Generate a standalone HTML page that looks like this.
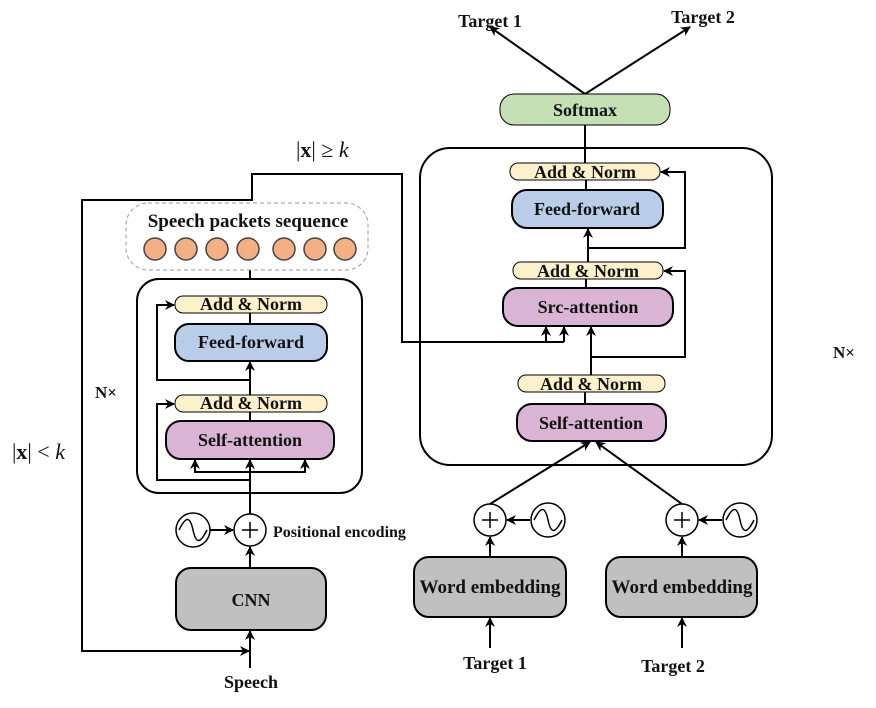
<!DOCTYPE html>
<html><head><style>body{margin:0;background:#fff}svg{display:block}text{font-family:"Liberation Serif",serif;font-weight:bold;fill:#111}</style></head><body>
<svg width="876" height="708" viewBox="0 0 876 708" xmlns="http://www.w3.org/2000/svg">
<defs><marker id="a" markerWidth="10" markerHeight="10" refX="9" refY="5" orient="auto" markerUnits="userSpaceOnUse"><path d="M0,0 L10,5 L0,10 L3,5 z" fill="#000"/></marker></defs>
<g stroke="#000" stroke-width="2" fill="none">
<rect x="420" y="148" width="352" height="317" rx="30"/>
<rect x="137" y="279" width="225" height="214" rx="22"/>
<polyline points="250,651 82,651 82,200 252,200 252,174 402,174 402,342 564,342"/>
<line x1="82" y1="651" x2="249" y2="651" marker-end="url(#a)"/>
<line x1="250" y1="668" x2="250" y2="631" marker-end="url(#a)"/>
<line x1="250" y1="568" x2="250" y2="547" marker-end="url(#a)"/>
<line x1="210" y1="530" x2="233" y2="530" marker-end="url(#a)"/>
<line x1="250" y1="514" x2="250" y2="460" marker-end="url(#a)"/>
<polyline points="195,460 195,472 305,472 305,460"/>
<line x1="195" y1="472" x2="195" y2="460" marker-end="url(#a)"/>
<line x1="305" y1="472" x2="305" y2="460" marker-end="url(#a)"/>
<polyline points="250,480 157,480 157,404 174,404" marker-end="url(#a)"/>
<line x1="250" y1="421" x2="250" y2="412"/>
<line x1="250" y1="395" x2="250" y2="362" marker-end="url(#a)"/>
<polyline points="250,380 157,380 157,305 174,305" marker-end="url(#a)"/>
<line x1="250" y1="324" x2="250" y2="313"/>
<line x1="250" y1="279" x2="250" y2="270"/>
<line x1="546" y1="342" x2="546" y2="327" marker-end="url(#a)"/>
<line x1="564" y1="342" x2="564" y2="327" marker-end="url(#a)"/>
<line x1="591" y1="375" x2="591" y2="327" marker-end="url(#a)"/>
<polyline points="591,357 685,357 685,271 664,271" marker-end="url(#a)"/>
<line x1="588" y1="262" x2="588" y2="229" marker-end="url(#a)"/>
<polyline points="588,248 685,248 685,172 661,172" marker-end="url(#a)"/>
<line x1="585" y1="404" x2="585" y2="392"/>
<line x1="586" y1="288" x2="586" y2="279"/>
<line x1="586" y1="190" x2="586" y2="180"/>
<line x1="585" y1="163" x2="585" y2="125"/>
<line x1="585" y1="94" x2="490" y2="27" marker-end="url(#a)"/>
<line x1="585" y1="94" x2="690" y2="27" marker-end="url(#a)"/>
<line x1="490" y1="504" x2="590" y2="442" marker-end="url(#a)"/>
<line x1="682" y1="504" x2="596" y2="442" marker-end="url(#a)"/>
<line x1="490" y1="557" x2="490" y2="537" marker-end="url(#a)"/>
<line x1="682" y1="557" x2="682" y2="537" marker-end="url(#a)"/>
<line x1="530" y1="520" x2="507" y2="520" marker-end="url(#a)"/>
<line x1="722" y1="520" x2="699" y2="520" marker-end="url(#a)"/>
<line x1="490" y1="648" x2="490" y2="618" marker-end="url(#a)"/>
<line x1="682" y1="648" x2="682" y2="618" marker-end="url(#a)"/>
</g>
<rect x="126" y="203" width="242" height="67" rx="22" fill="#fff" stroke="#999" stroke-dasharray="4,3"/>
<g fill="#f3b085" stroke="#444" stroke-width="1.5">
<circle cx="155" cy="249" r="11"/><circle cx="186" cy="249" r="11"/><circle cx="217" cy="249" r="11"/><circle cx="248" cy="249" r="11"/><circle cx="284" cy="249" r="11"/><circle cx="315" cy="249" r="11"/><circle cx="345" cy="249" r="11"/>
</g>
<g stroke="#000" stroke-width="2">
<rect x="175" y="296" width="152" height="17" rx="8" fill="#fdf0cc" stroke-width="1"/>
<rect x="175" y="324" width="152" height="37" rx="14" fill="#b9cde8"/>
<rect x="175" y="395" width="152" height="17" rx="8" fill="#fdf0cc" stroke-width="1"/>
<rect x="166" y="421" width="168" height="38" rx="15" fill="#dab4d4"/>
<rect x="176" y="568" width="150" height="62" rx="15" fill="#c0c0c0"/>
<rect x="414" y="557" width="152" height="60" rx="15" fill="#c0c0c0"/>
<rect x="606" y="557" width="151" height="60" rx="15" fill="#c0c0c0"/>
<rect x="500" y="94" width="170" height="31" rx="14" fill="#c4e0b4" stroke-width="1"/>
<rect x="510" y="163" width="150" height="17" rx="8" fill="#fdf0cc" stroke-width="1"/>
<rect x="512" y="190" width="151" height="38" rx="15" fill="#b9cde8"/>
<rect x="513" y="262" width="150" height="17" rx="8" fill="#fdf0cc" stroke-width="1"/>
<rect x="503" y="288" width="170" height="38" rx="15" fill="#dab4d4"/>
<rect x="518" y="375" width="147" height="17" rx="8" fill="#fdf0cc" stroke-width="1"/>
<rect x="517" y="404" width="149" height="37" rx="15" fill="#dab4d4"/>
</g>
<g stroke="#000" stroke-width="1.5" fill="#fff">
<circle cx="250" cy="530" r="16"/><circle cx="193" cy="530" r="17"/>
<circle cx="490" cy="520" r="16"/><circle cx="548" cy="520" r="17"/>
<circle cx="682" cy="520" r="16"/><circle cx="740" cy="520" r="17"/>
</g>
<g stroke="#000" stroke-width="1.5" fill="none">
<path d="M242,530h16M250,522v16M482,520h16M490,512v16M674,520h16M682,512v16"/>
<path d="M179,530 C186,516 190,516 193,530 S200,544 207,530"/>
<path d="M534,520 C541,506 545,506 548,520 S555,534 562,520"/>
<path d="M726,520 C733,506 737,506 740,520 S747,534 754,520"/>
</g>
<g font-size="18" text-anchor="middle">
<text x="251" y="310">Add &amp; Norm</text>
<text x="251" y="348">Feed-forward</text>
<text x="251" y="409">Add &amp; Norm</text>
<text x="250" y="446">Self-attention</text>
<text x="248" y="227" font-size="19">Speech packets sequence</text>
<text x="251" y="606">CNN</text>
<text x="490" y="593" font-size="19">Word embedding</text>
<text x="682" y="593" font-size="19">Word embedding</text>
<text x="585" y="116">Softmax</text>
<text x="585" y="178">Add &amp; Norm</text>
<text x="587" y="215">Feed-forward</text>
<text x="588" y="277">Add &amp; Norm</text>
<text x="588" y="313">Src-attention</text>
<text x="591" y="390">Add &amp; Norm</text>
<text x="591" y="429">Self-attention</text>
<text x="490" y="27">Target 1</text>
<text x="703" y="23">Target 2</text>
<text x="495" y="669">Target 1</text>
<text x="673" y="672">Target 2</text>
<text x="251" y="688">Speech</text>
</g>
<text x="273" y="537" font-size="16">Positional encoding</text>
<text x="95" y="398" font-size="17">N×</text>
<text x="833" y="358" font-size="17">N×</text>
<text x="296" y="157" font-size="22" style="font-weight:normal">|<tspan font-weight="bold">x</tspan>| ≥ <tspan font-style="italic">k</tspan></text>
<text x="12" y="459" font-size="22" style="font-weight:normal">|<tspan font-weight="bold">x</tspan>| &lt; <tspan font-style="italic">k</tspan></text>
</svg>
</body></html>
